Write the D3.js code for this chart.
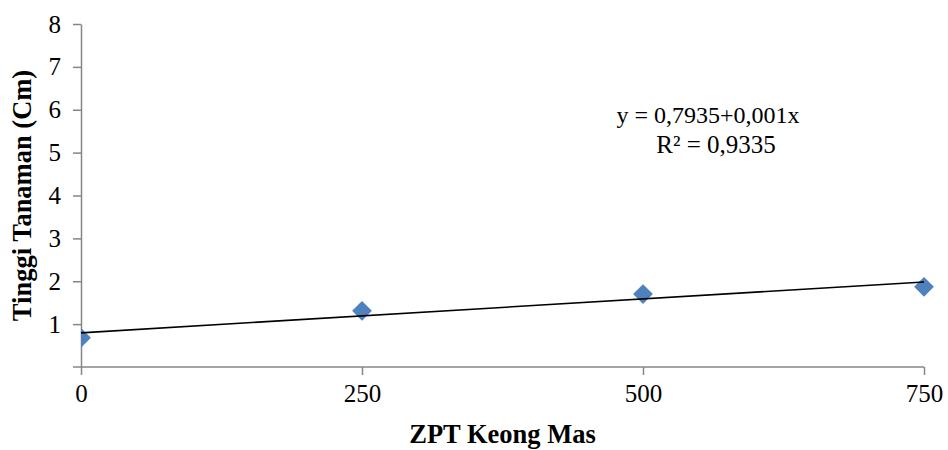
<!DOCTYPE html>
<html>
<head>
<meta charset="utf-8">
<script src="https://cdn.jsdelivr.net/npm/d3@7"></script>
<style>
  body { margin: 0; background: #fff; }
  svg text { font-family: "Times New Roman", "Liberation Serif", serif; fill: #000; }
</style>
</head>
<body>
<div id="graphArea"></div>
<script>
// data
const dosis = [0, 250, 500, 750];
const tinggi = [0.68, 1.31, 1.70, 1.87];
const xTicks = [0, 250, 500, 750];
const yTicks = [1, 2, 3, 4, 5, 6, 7, 8];
const eqLines = ["y = 0,7935+0,001x", "R\u00b2 = 0,9335"];

const width = 948, height = 450;
const margin = {left: 81, right: 24, top: 24, bottom: 83};
const axisColor = "#868686";

const svg = d3.select("#graphArea").append("svg")
  .attr("width", width)
  .attr("height", height);

const x = d3.scaleLinear().domain([0, 750]).range([margin.left, width - margin.right]);
const y = d3.scaleLinear().domain([0, 8]).range([height - margin.bottom, margin.top]);

// x axis
const xAxis = svg.append("g")
  .attr("transform", "translate(0," + y(0) + ")")
  .call(d3.axisBottom(x).tickValues(xTicks).tickSize(8).tickPadding(9).tickSizeOuter(0));
xAxis.select(".domain").attr("d", "M" + (margin.left - 8) + ",0H" + x(750));

// y axis
const yAxis = svg.append("g")
  .attr("transform", "translate(" + margin.left + ",0)")
  .call(d3.axisLeft(y).tickValues(yTicks).tickSize(8).tickPadding(12).tickSizeOuter(0));

svg.selectAll(".domain, .tick line")
  .attr("stroke", axisColor)
  .attr("stroke-width", 1.5);
svg.selectAll(".tick text")
  .attr("font-size", 25)
  .attr("font-family", "'Times New Roman', 'Liberation Serif', serif")
  .attr("fill", "#000");

// clip so the first marker is cut at the y axis
svg.append("clipPath").attr("id", "plotClip")
  .append("rect")
  .attr("x", margin.left).attr("y", 0)
  .attr("width", width - margin.left).attr("height", y(0));

const pts = dosis.map((d, i) => ({x: d, y: tinggi[i]}));

svg.append("g").attr("clip-path", "url(#plotClip)")
  .selectAll("path.mark")
  .data(pts)
  .enter().append("path")
  .attr("class", "mark")
  .attr("d", d3.symbol().type(d3.symbolDiamond2).size(250))
  .attr("transform", d => "translate(" + x(d.x) + "," + y(d.y) + ")")
  .attr("fill", "#4F81BD");

// linear trendline (least squares)
const mx = d3.mean(dosis), my = d3.mean(tinggi);
const slope = d3.sum(pts, p => (p.x - mx) * (p.y - my)) / d3.sum(pts, p => (p.x - mx) * (p.x - mx));
const intercept = my - slope * mx;
svg.append("line")
  .attr("x1", x(0)).attr("y1", y(intercept))
  .attr("x2", x(750)).attr("y2", y(intercept + slope * 750))
  .attr("stroke", "#000")
  .attr("stroke-width", 1.6);

// equation label
svg.append("g").selectAll("text")
  .data(eqLines)
  .enter().append("text")
  .attr("x", (d, i) => i === 0 ? 708 : 716)
  .attr("y", (d, i) => 123 + i * 30)
  .attr("text-anchor", "middle")
  .attr("font-size", (d, i) => i === 0 ? 24 : 25)
  .text(d => d);

// axis titles
svg.append("text")
  .attr("x", (x(0) + x(750)) / 2)
  .attr("y", 443)
  .attr("text-anchor", "middle")
  .attr("font-size", 26.5)
  .attr("font-weight", "bold")
  .text("ZPT Keong Mas");

svg.append("text")
  .attr("transform", "translate(31," + (y(0) + y(8)) / 2 + ") rotate(-90)")
  .attr("text-anchor", "middle")
  .attr("font-size", 26.5)
  .attr("font-weight", "bold")
  .text("Tinggi Tanaman (Cm)");
</script>
</body>
</html>
